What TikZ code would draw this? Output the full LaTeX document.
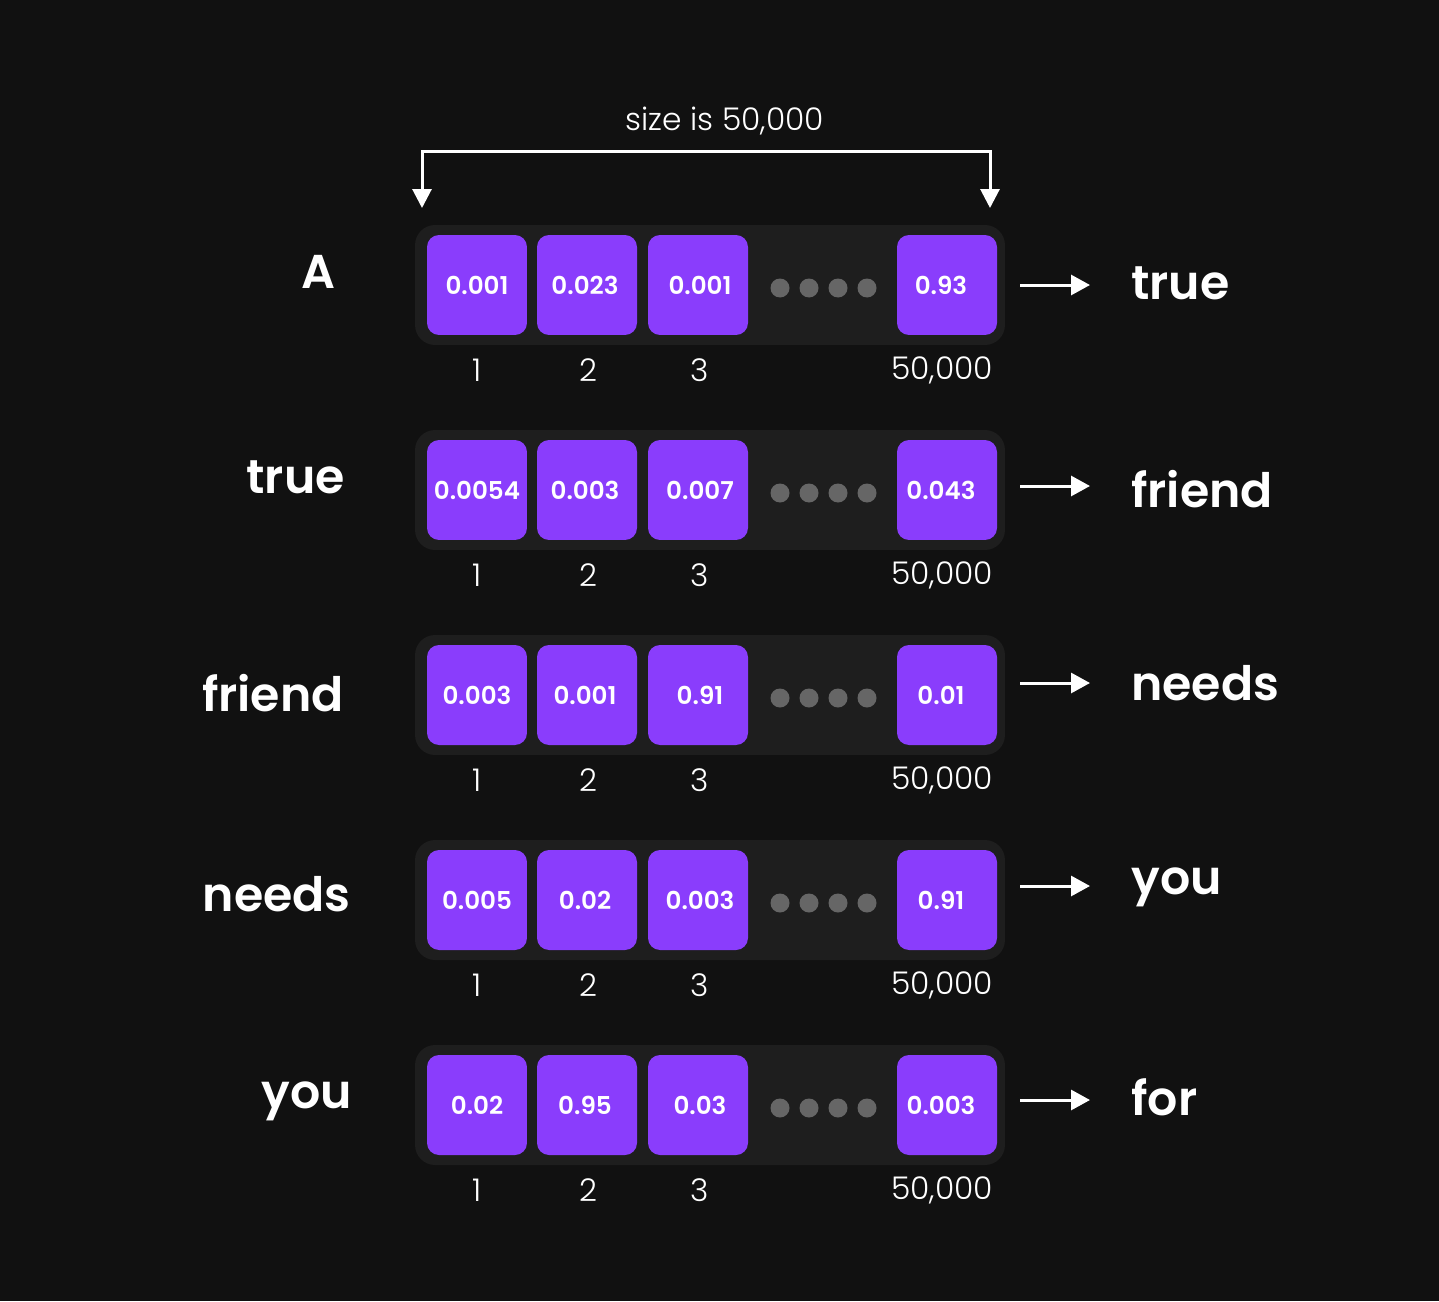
\documentclass[tikz,border=0pt]{standalone}
\usepackage{fontspec}
\setmainfont{Poppins}
\newfontfamily\popsemi{Poppins SemiBold}
\newfontfamily\poplight{Poppins Light}
\usetikzlibrary{arrows.meta, positioning}
\definecolor{bgc}{HTML}{111111}
\definecolor{barc}{HTML}{1E1E1E}
\definecolor{vpurple}{HTML}{8A3DFC}
\definecolor{dotc}{HTML}{666666}

\begin{document}
\begin{tikzpicture}[x=0.02cm, y=-0.02cm,
  bar/.style={fill=barc, rounded corners=0.4cm, minimum width=11.8cm,
  minimum height=2.4cm, inner sep=0},
  cell/.style={fill=vpurple, rounded corners=0.24cm, minimum width=2cm,
  minimum height=2cm, inner sep=0, text=white, font=\popsemi\fontsize{14}{17}\selectfont},
  dot/.style={circle, fill=dotc, minimum size=0.38cm, inner sep=0},
  idx/.style={text=white, font=\poplight\fontsize{17.8}{21}\selectfont},
  word/.style={text=white, inner sep=0, font=\popsemi\fontsize{27}{32}\selectfont},
  arr/.style={-{Triangle[length=0.38cm, width=0.4cm]}, line width=0.06cm, white},
  brk/.style={{Triangle[length=0.38cm, width=0.38cm]}-{Triangle[length=0.38cm, width=0.38cm]},
  line width=0.06cm, white}
]
\fill[bgc] (0,0) rectangle (1439,1301);
\node[idx] (size) at (725,121) {size is 50,000};
\coordinate (bl) at (422,208);
\coordinate (br) at (990,208);
\draw[brk] (bl) -- (422,151) -- (990,151) -- (br);
\foreach \r/\y/\lw/\lx/\ly/\a/\b/\c/\d/\nw/\ny/\ay in {
  1/285/A/336/288/0.001/0.023/0.001/0.93/true/299/285,
  2/490/true/345/493/0.0054/0.003/0.007/0.043/friend/507/486,
  3/695/friend/344/711/0.003/0.001/0.91/0.01/needs/700/683,
  4/900/needs/351/911/0.005/0.02/0.003/0.91/you/894/886,
  5/1105/you/352/1108/0.02/0.95/0.03/0.003/for/1115/1100}{
  \node[bar] (bar\r) at (710,\y) {};
  \node[cell] (c1-\r) at (477,\y) {\a};
  \node[cell] (c2-\r) at (587,\y) {\b\hspace*{0.08cm}};
  \node[cell] (c3-\r) at (698,\y) {\hspace*{0.08cm}\c};
  \node[cell] (c4-\r) at (947,\y) {\d\hspace*{0.24cm}};
  \foreach \k in {0,1,2,3}
    \node[dot] (d\k-\r) at (780+29*\k,\y+3) {};
  \node[idx] (i1-\r) at (477,\y+85) {1};
  \node[idx] (i2-\r) at (588,\y+85) {2};
  \node[idx] (i3-\r) at (700,\y+85) {3};
  \node[idx] (i4-\r) at (942,\y+85) {50,000};
  \node[word, anchor=base east] (in\r) at (\lx,\ly) {\lw};
  \node[word, anchor=base west] (out\r) at (1131,\ny) {\nw};
  \coordinate (a\r) at (1020,\ay);
  \draw[arr] (a\r) -- (1090,\ay);
}
\end{tikzpicture}
\end{document}
